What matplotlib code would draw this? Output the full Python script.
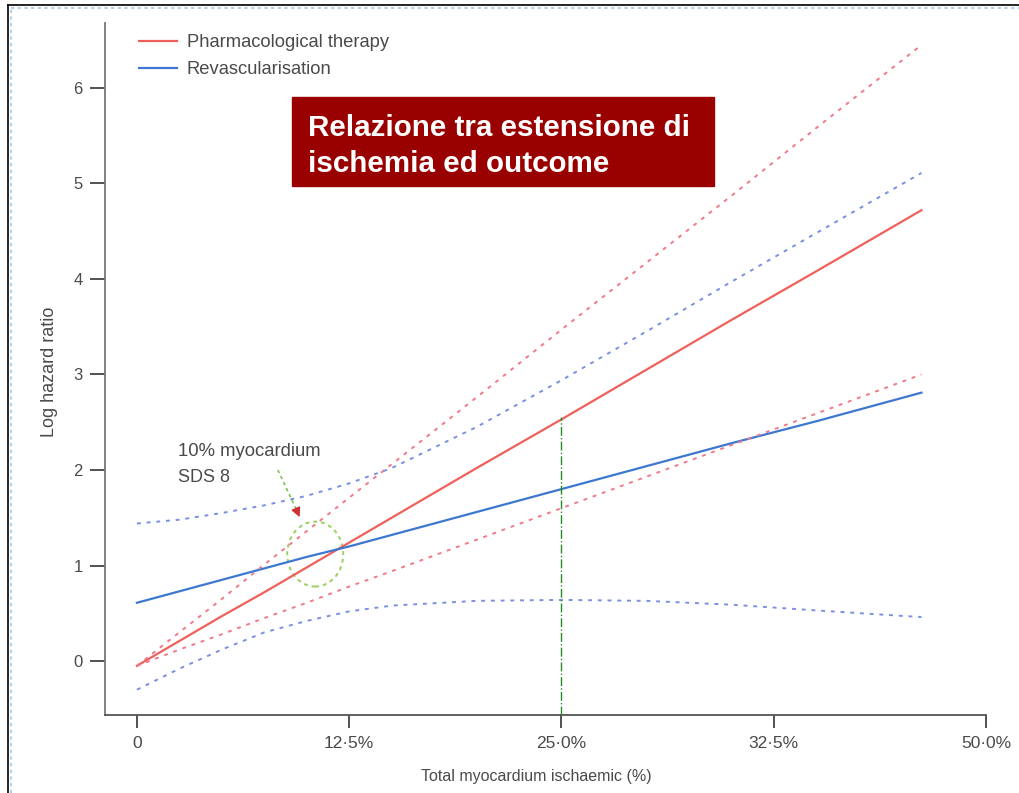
import matplotlib
matplotlib.use("Agg")
import matplotlib.pyplot as plt
from matplotlib.patches import Rectangle, Ellipse
from matplotlib.lines import Line2D

# total myocardium ischaemic (%) and log hazard ratio values
x_pct = [0, 2.5, 5, 7.5, 10, 12.5, 15, 20, 25, 30, 35, 40, 46.2]
pharm = [-0.05, 0.21, 0.47, 0.72, 0.98, 1.24, 1.50, 2.02, 2.53, 3.05, 3.57, 4.08, 4.72]
pharm_hi = [-0.05, 0.30, 0.65, 1.01, 1.36, 1.71, 2.06, 2.76, 3.47, 4.17, 4.87, 5.58, 6.45]
pharm_lo = [-0.05, 0.12, 0.28, 0.45, 0.61, 0.78, 0.94, 1.27, 1.60, 1.93, 2.26, 2.59, 3.00]
revasc = [0.61, 0.73, 0.85, 0.97, 1.09, 1.20, 1.32, 1.56, 1.80, 2.04, 2.28, 2.51, 2.81]
revasc_hi = [1.44, 1.48, 1.55, 1.63, 1.73, 1.86, 2.02, 2.45, 2.94, 3.45, 3.97, 4.48, 5.11]
revasc_lo = [-0.30, -0.08, 0.12, 0.30, 0.42, 0.52, 0.58, 0.63, 0.64, 0.63, 0.59, 0.53, 0.46]

x_ticks = [0, 12.5, 25, 37.5, 50]
x_ticklabels = ["0", "12·5%", "25·0%", "32·5%", "50·0%"]
y_ticks = [0, 1, 2, 3, 4, 5, 6]

plt.rcParams['font.family'] = ['Liberation Sans', 'DejaVu Sans']
txt = '#4a4a4a'

fig = plt.figure(figsize=(10.2, 7.93), dpi=100)
W, H = 1020, 793
ax = fig.add_axes([105 / W, 1 - 715 / H, 881 / W, 692 / H])

ax.plot(x_pct, pharm, color='#f0605a', lw=1.6, label='Pharmacological therapy')
ax.plot(x_pct, revasc, color='#3c78d0', lw=1.6, label='Revascularisation')
ax.plot(x_pct, pharm_hi, color='#f07a8a', lw=1.4, ls=(0, (2, 3)))
ax.plot(x_pct, pharm_lo, color='#f07a8a', lw=1.4, ls=(0, (2, 3)))
ax.plot(x_pct, revasc_hi, color='#7a90e0', lw=1.4, ls=(0, (2, 3)))
ax.plot(x_pct, revasc_lo, color='#7a90e0', lw=1.4, ls=(0, (2, 3)))

# 25% reference line
ax.plot([25, 25], [-0.565, 2.55], color='#2a8a2a', lw=1.0, ls='-.')

# circle + arrow annotation
ax.add_patch(Ellipse((10.5, 1.12), 3.3, 0.68, fill=False, ec='#9ad060',
                     lw=1.4, ls=(0, (2, 2))))
ax.plot([8.3, 9.4], [2.0, 1.58], color='#80c050', lw=1.2, ls=(0, (2, 2)))
ax.annotate('', xy=(9.65, 1.48), xytext=(9.35, 1.6),
            arrowprops=dict(arrowstyle='-|>', color='#d03030', lw=1.0,
                            mutation_scale=14))
ax.text(2.41, 2.19, '10% myocardium', color=txt, fontsize=13.3, va='center')
ax.text(2.41, 1.92, 'SDS 8', color=txt, fontsize=13, va='center')

ax.set_xlim(-1.88, 50)
ax.set_ylim(-0.565, 6.68)
ax.set_xticks(x_ticks)
ax.set_xticklabels(x_ticklabels)
ax.set_yticks(y_ticks)
ax.tick_params(axis='y', length=11, width=1.2, pad=5, colors='#333', labelcolor=txt, labelsize=12)
ax.tick_params(axis='x', length=9, width=1.2, pad=6, colors='#333', labelcolor=txt, labelsize=12.5)
for s in ['top', 'right']:
    ax.spines[s].set_visible(False)
ax.spines['left'].set_color('#777')
ax.spines['bottom'].set_color('#555')
ax.spines['left'].set_linewidth(1.3)
ax.spines['bottom'].set_linewidth(1.3)

ax.set_ylabel('Log hazard ratio', color=txt, fontsize=13)
ax.yaxis.set_label_coords(-0.053, 0.496)
ax.set_xlabel('Total myocardium ischaemic (%)', color=txt, fontsize=11.5)
ax.xaxis.set_label_coords(0.49, -0.078)

ax.legend(loc='upper left', bbox_to_anchor=(130 / W, 1 - 25 / H),
          bbox_transform=fig.transFigure, frameon=False, fontsize=13.2,
          handlelength=2.05, handletextpad=0.55, labelspacing=0.55,
          borderpad=0, labelcolor=txt)

# red title box
fig.add_artist(Rectangle((292 / W, 1 - 186 / H), 422 / W, 89 / H,
                         transform=fig.transFigure, color='#990000'))
fig.text(308 / W, 1 - 146 / H, 'Relazione tra estensione di\nischemia ed outcome',
         color='white', fontsize=21.3, fontweight='bold', va='center',
         linespacing=1.38)

# slide frame
fig.add_artist(Line2D([8 / W, 8 / W], [0, 1 - 5 / H], color='black', lw=1.2,
                      transform=fig.transFigure))
fig.add_artist(Line2D([8 / W, 1], [1 - 5 / H, 1 - 5 / H], color='black', lw=1.2,
                      transform=fig.transFigure))
fig.add_artist(Line2D([11 / W, 11 / W], [0, 1 - 8 / H], color='#a0c8e8', lw=1.2,
                      ls=(0, (2, 2)), transform=fig.transFigure))
fig.add_artist(Line2D([11 / W, 1], [1 - 8 / H, 1 - 8 / H], color='#a0c8e8', lw=1.2,
                      ls=(0, (2, 2)), transform=fig.transFigure))

fig.savefig('out.png', dpi=100)
